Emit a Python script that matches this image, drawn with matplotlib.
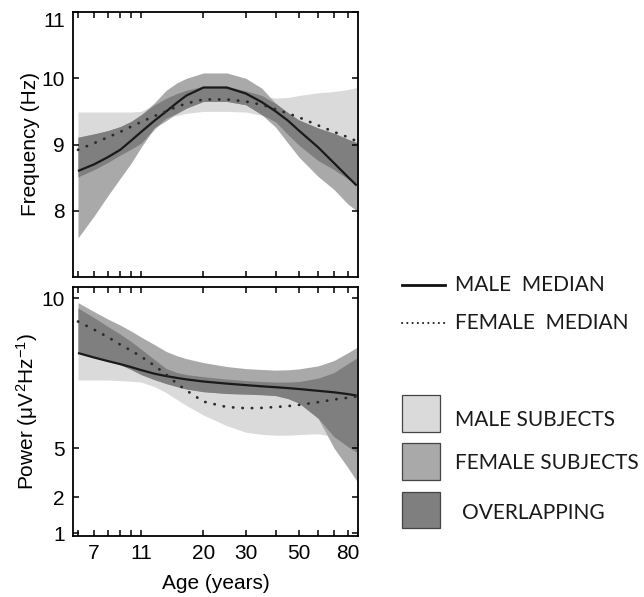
import numpy as np
import matplotlib
matplotlib.use("Agg")
import matplotlib.pyplot as plt
from matplotlib.lines import Line2D
from matplotlib.patches import Rectangle
from matplotlib.ticker import FixedLocator, NullLocator, NullFormatter

plt.rcParams['font.family'] = ['Liberation Sans', 'DejaVu Sans']
plt.rcParams['mathtext.fontset'] = 'custom'
plt.rcParams['mathtext.rm'] = 'Liberation Sans'
plt.rcParams['mathtext.it'] = 'Liberation Sans:italic'

# ---------------- data ----------------
ages = [6, 7, 8, 9, 10, 11, 12.5, 14, 15.5, 17, 20, 25, 30, 35, 40, 45, 50, 60, 70, 80, 87]

# Frequency panel (Hz)
freq_male_median = [8.60, 8.70, 8.81, 8.92, 9.06, 9.19, 9.36, 9.50, 9.63, 9.74, 9.86, 9.86, 9.77, 9.64, 9.50, 9.36, 9.21, 8.96, 8.72, 8.51, 8.38]
freq_female_median = [8.92, 9.02, 9.11, 9.19, 9.27, 9.34, 9.43, 9.50, 9.57, 9.62, 9.68, 9.68, 9.65, 9.60, 9.53, 9.47, 9.41, 9.29, 9.19, 9.11, 9.05]
freq_male_hi = [9.49, 9.49, 9.49, 9.49, 9.49, 9.50, 9.60, 9.70, 9.77, 9.82, 9.88, 9.88, 9.81, 9.74, 9.70, 9.71, 9.74, 9.78, 9.80, 9.83, 9.86]
freq_male_lo = [8.51, 8.62, 8.73, 8.84, 8.93, 9.02, 9.22, 9.40, 9.44, 9.47, 9.50, 9.50, 9.49, 9.44, 9.34, 9.15, 8.99, 8.76, 8.62, 8.48, 8.40]
freq_female_hi = [9.11, 9.16, 9.21, 9.27, 9.35, 9.45, 9.63, 9.82, 9.93, 10.00, 10.08, 10.08, 10.00, 9.85, 9.62, 9.48, 9.37, 9.25, 9.17, 9.08, 9.03]
freq_female_lo = [7.59, 7.92, 8.23, 8.49, 8.72, 8.96, 9.25, 9.36, 9.47, 9.55, 9.65, 9.65, 9.60, 9.45, 9.26, 9.02, 8.81, 8.52, 8.32, 8.10, 8.00]

# Power panel (uV^2 Hz^-1)
pow_male_median = [8.17, 8.02, 7.90, 7.80, 7.70, 7.60, 7.48, 7.40, 7.34, 7.29, 7.22, 7.15, 7.10, 7.06, 7.03, 7.00, 6.97, 6.91, 6.86, 6.80, 6.75]
pow_female_median = [9.22, 8.95, 8.70, 8.45, 8.25, 8.05, 7.75, 7.45, 7.15, 6.92, 6.55, 6.37, 6.33, 6.34, 6.37, 6.40, 6.44, 6.53, 6.62, 6.68, 6.72]
pow_male_hi = [9.67, 9.35, 9.05, 8.80, 8.55, 8.30, 7.95, 7.65, 7.52, 7.45, 7.38, 7.30, 7.25, 7.22, 7.20, 7.20, 7.22, 7.33, 7.52, 7.82, 8.00]
pow_male_lo = [7.27, 7.27, 7.27, 7.25, 7.23, 7.20, 7.05, 6.85, 6.62, 6.42, 6.10, 5.75, 5.53, 5.46, 5.43, 5.43, 5.45, 5.48, 5.38, 5.05, 4.75]
pow_female_hi = [9.85, 9.55, 9.30, 9.10, 8.90, 8.70, 8.45, 8.22, 8.08, 7.98, 7.85, 7.72, 7.65, 7.62, 7.60, 7.61, 7.64, 7.74, 7.92, 8.18, 8.35]
pow_female_lo = [8.17, 8.02, 7.90, 7.78, 7.62, 7.45, 7.28, 7.15, 7.05, 6.97, 6.88, 6.82, 6.80, 6.78, 6.75, 6.65, 6.50, 6.00, 5.00, 3.80, 3.00]

x_ticks = [7, 11, 20, 30, 50, 80]
x_minor = [6, 8, 9, 10, 40, 60, 70]
freq_ticks = [8, 9, 10, 11]
pow_ticks = [1, 2, 5, 10]

legend_lines = ["MALE  MEDIAN", "FEMALE  MEDIAN"]
legend_boxes = ["MALE SUBJECTS", "FEMALE SUBJECTS", "OVERLAPPING"]

C_MALE = '#dadada'
C_FEMALE = '#a9a9a9'
C_OVER = '#7f7f7f'

W, H = 644, 597
fig = plt.figure(figsize=(W / 100, H / 100), dpi=100)

def fx(px):
    return px / W

def fy(py):
    return 1 - py / H

ax1 = fig.add_axes([fx(73), fy(277), fx(358) - fx(73), fy(12) - fy(277)])
ax2 = fig.add_axes([fx(73), fy(536), fx(358) - fx(73), fy(287) - fy(536)])

def draw_panel(ax, mmed, fmed, mhi, mlo, fhi, flo):
    a = np.array(ages, float)
    mhi, mlo, fhi, flo = map(np.array, (mhi, mlo, fhi, flo))
    ax.fill_between(a, mlo, mhi, color=C_MALE, lw=0)
    ax.fill_between(a, flo, fhi, color=C_FEMALE, lw=0)
    lo = np.maximum(mlo, flo)
    hi = np.minimum(mhi, fhi)
    ax.fill_between(a, lo, hi, where=hi > lo, interpolate=True, color=C_OVER, lw=0)
    ax.plot(a, mmed, color='#1a1a1a', lw=1.6, solid_capstyle='butt')
    ax.plot(a, fmed, color='#2a2a2a', lw=2.0, linestyle=(0, (0.1, 3.3)),
            dash_capstyle='round')

draw_panel(ax1, freq_male_median, freq_female_median, freq_male_hi, freq_male_lo,
           freq_female_hi, freq_female_lo)
draw_panel(ax2, pow_male_median, pow_female_median, pow_male_hi, pow_male_lo,
           pow_female_hi, pow_female_lo)

# piecewise-linear power axis (as in the original figure)
yv = [0, 1, 2, 5, 10, 20]
yp = [-33, 3, 39, 88, 238, 538]
ax2.set_yscale('function', functions=(lambda v: np.interp(v, yv, yp),
                                      lambda p: np.interp(p, yp, yv)))

for ax in (ax1, ax2):
    ax.set_xscale('log')
    ax.set_xlim(5.72, 88.1)
    ax.xaxis.set_major_locator(FixedLocator(x_ticks))
    ax.xaxis.set_minor_locator(FixedLocator(x_minor))
    ax.xaxis.set_minor_formatter(NullFormatter())
    ax.tick_params(which='both', direction='in', top=True, right=True,
                   length=4, width=1.1, labelsize=15, pad=6)
    for s in ax.spines.values():
        s.set_linewidth(1.3)

ax1.set_ylim(7.0, 11.0)
ax1.set_yticks(freq_ticks)
ax1.set_yticklabels([str(t) for t in freq_ticks])
ax1.yaxis.set_minor_locator(NullLocator())
ax1.tick_params(axis='x', labelbottom=False)
ax1.get_yticklabels()[-1].set_va('top')
ax1.set_ylabel('Frequency (Hz)', fontsize=15, labelpad=1)

ax2.set_ylim(0.92, 10.37)
ax2.set_yticks(pow_ticks)
ax2.set_yticklabels([str(t) for t in pow_ticks])
ax2.yaxis.set_minor_locator(NullLocator())
ax2.set_xticklabels([str(t) for t in x_ticks])
ax2.set_ylabel('Power (μV$^{2}$Hz$^{-1}$)', fontsize=15, labelpad=1)
ax2.set_xlabel('Age (years)', fontsize=15, labelpad=8)

# ---------------- legend ----------------
lfont = dict(family=['Lato', 'DejaVu Sans'], fontsize=15, color='#1a1a1a', va='center')
fig.add_artist(Line2D([fx(402), fx(445)], [fy(285), fy(285)], color='#111111', lw=2.0,
                      transform=fig.transFigure))
fig.add_artist(Line2D([fx(402), fx(445)], [fy(323), fy(323)], color='#111111', lw=1.4,
                      linestyle=(0, (0.1, 2.6)), dash_capstyle='round',
                      transform=fig.transFigure))
fig.text(fx(455), fy(285), legend_lines[0], **lfont)
fig.text(fx(455), fy(323), legend_lines[1], **lfont)

box_y = [(395, 432), (443, 480), (492, 528)]
box_c = [C_MALE, C_FEMALE, C_OVER]
text_y = [420, 463, 513]
text_x = [455, 455, 462]
for (y0, y1), c, ty, tx, lab in zip(box_y, box_c, text_y, text_x, legend_boxes):
    fig.add_artist(Rectangle((fx(402), fy(y1)), fx(440) - fx(402), fy(y0) - fy(y1),
                             facecolor=c, edgecolor='#444444', lw=0.9,
                             transform=fig.transFigure))
    fig.text(fx(tx), fy(ty), lab, **lfont)

fig.savefig('out.png', dpi=100)
